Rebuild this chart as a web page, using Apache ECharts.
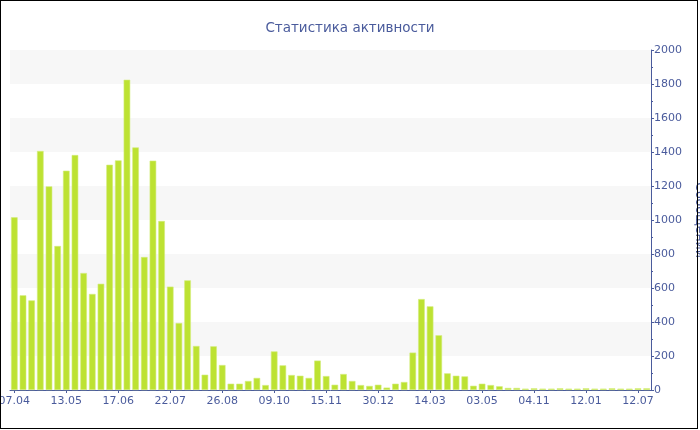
<!DOCTYPE html>
<html><head><meta charset="utf-8">
<script src="https://cdn.jsdelivr.net/npm/echarts@6/dist/echarts.min.js"></script>
<style>
html,body{margin:0;padding:0;background:#fff}
#c{position:absolute;left:0;top:0;width:700px;height:430px}
#f{position:absolute;left:0;top:0;width:696px;height:427px;border:1px solid #000;pointer-events:none}
</style>
</head><body><div id="c"></div><div id="f"></div>
<script>
const tickLabels = ['07.04','13.05','17.06','22.07','26.08','09.10','15.11','30.12','14.03','03.05','04.11','12.01','12.07'];
const values = [
  1016, 557, 527, 1406, 1198, 847, 1290, 1382, 688, 565,
  625, 1325, 1351, 1825, 1427, 782, 1349, 994, 608, 394,
  645, 259, 90, 257, 147, 37, 37, 53, 71, 29,
  227, 145, 88, 84, 71, 173, 82, 31, 94, 53,
  29, 24, 31, 14, 37, 47, 220, 535, 492, 322,
  98, 84, 80, 25, 37, 29, 22, 12, 12, 8,
  10, 8, 8, 10, 8, 8, 10, 8, 8, 10,
  8, 8, 10, 10
];
const categories = values.map((v, i) => (i % 6 === 0 ? tickLabels[i / 6] : '#' + i));
const blue = '#4a5b9c';
const chart = echarts.init(document.getElementById('c'), null, {renderer: 'canvas'});
chart.setOption({
  backgroundColor: '#fff',
  animation: false,
  title: {
    text: 'Статистика активности',
    left: 'center',
    top: 16,
    textStyle: {color: blue, fontSize: 13.5, fontWeight: 'normal', fontFamily: 'DejaVu Sans'}
  },
  grid: {left: 10, right: 49, top: 50, bottom: 40, containLabel: false, outerBoundsMode: 'none'},
  xAxis: {
    type: 'category',
    data: categories,
    axisLine: {lineStyle: {color: blue, width: 1}},
    axisTick: {show: true, interval: 5, alignWithLabel: true, length: 3, lineStyle: {color: blue}},
    axisLabel: {
      interval: 5, margin: 6, color: blue, fontSize: 11, fontFamily: 'DejaVu Sans',
      formatter: (v) => (v.charAt(0) === '#' ? '' : v)
    },
    splitLine: {show: false}
  },
  yAxis: {
    type: 'value',
    position: 'right',
    min: 0, max: 2000, interval: 200,
    name: 'Сообщений',
    nameLocation: 'middle',
    nameRotate: -90,
    nameGap: 38,
    nameTextStyle: {color: blue, fontSize: 12.5, fontFamily: 'DejaVu Sans'},
    axisLine: {show: true, lineStyle: {color: blue, width: 1}},
    axisTick: {show: true, length: 3, lineStyle: {color: blue}},
    minorTick: {show: true, splitNumber: 2, length: 2, lineStyle: {color: blue}},
    axisLabel: {margin: 3, color: blue, fontSize: 11, fontFamily: 'DejaVu Sans', formatter: (v) => String(v)},
    splitLine: {show: false},
    splitArea: {show: true, areaStyle: {color: ['#ffffff', '#f7f7f7']}}
  },
  series: [{
    type: 'bar',
    data: values,
    barWidth: '76%',
    itemStyle: {color: '#bde232', borderColor: '#d3ec7c', borderWidth: 0.6}
  }]
});
</script></body></html>
